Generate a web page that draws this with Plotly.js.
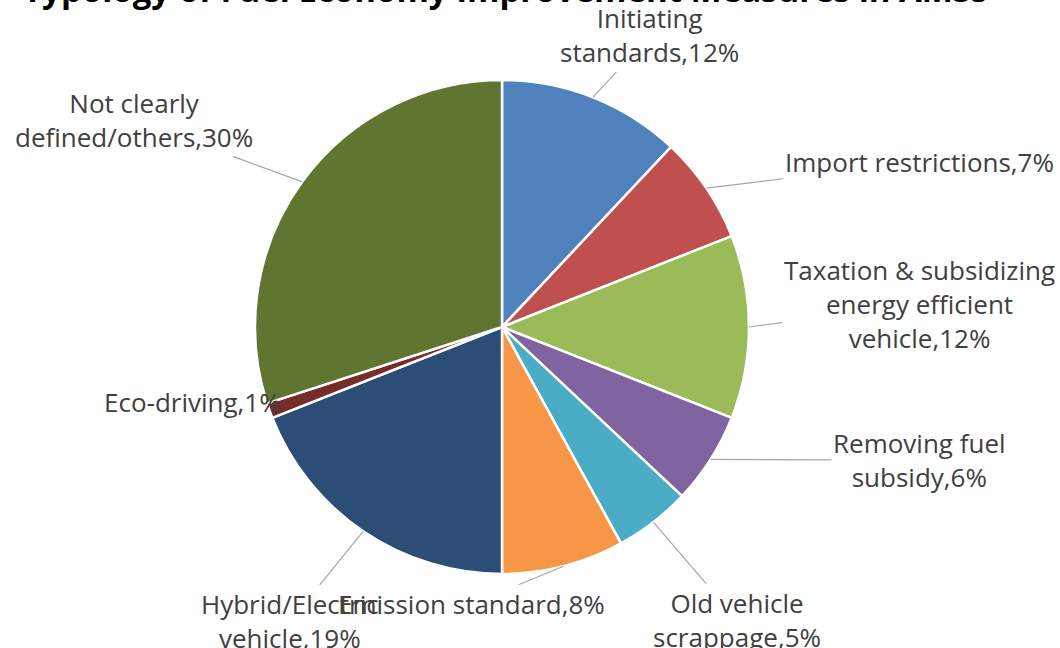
<!DOCTYPE html>
<html>
<head>
<meta charset="utf-8">
<script src="https://cdn.plot.ly/plotly-3.0.1.min.js"></script>
<style>html,body{margin:0;padding:0;background:#fff;}#chart{width:1060px;height:648px;}</style>
</head>
<body>
<div id="chart"></div>
<script>
// ---- data ----
const categories = [
  "Initiating standards",
  "Import restrictions",
  "Taxation & subsidizing energy efficient vehicle",
  "Removing fuel subsidy",
  "Old vehicle scrappage",
  "Emission standard",
  "Hybrid/Electric vehicle",
  "Eco-driving",
  "Not clearly defined/others"
];
const values = [12, 7, 12, 6, 5, 8, 19, 1, 30];
const wrappedNames = [
  "Initiating<br>standards",
  "Import restrictions",
  "Taxation &amp; subsidizing<br>energy efficient<br>vehicle",
  "Removing fuel<br>subsidy",
  "Old vehicle<br>scrappage",
  "Emission standard",
  "Hybrid/Electric<br>vehicle",
  "Eco-driving",
  "Not clearly<br>defined/others"
];
const titleText = "Typology of Fuel Economy Improvement Measures in AMSs";

// ---- styles / layout ----
const colors = ["#4F81BD","#C0504D","#9BBB59","#8064A2","#4BACC6","#F79646","#2C4D75","#772C2A","#5F7530"];
const W = 1060, H = 648;
const cx = 502, cy = 327, R = 247;
const fontFam = '"Open Sans", Lato, sans-serif';
// label centre offsets (pixels) from the slice edge point
const labelOffsets = [[57,-62],[213,-26],[170,-23],[209,1],[84,98],[-92,38],[-73,90],[-77,-9],[-168,-62]];
const arrowOn = [true,true,true,true,true,true,true,false,true];

const total = values.reduce((a,b)=>a+b,0);
let cum = 0;
const annotations = [];
values.forEach((v,i)=>{
  const mid = (cum + v/2)/total*2*Math.PI;
  cum += v;
  const px = cx + R*Math.sin(mid);
  const py = cy - R*Math.cos(mid);
  const pct = Math.round(v/total*100);
  const a = {
    x: px/W, y: 1 - py/H, xref:'paper', yref:'paper',
    text: wrappedNames[i] + "," + pct + "%",
    font: {family:fontFam, size:26, color:'#404040'},
    align:'center', xanchor:'center', yanchor:'middle'
  };
  if (arrowOn[i]) {
    Object.assign(a, {showarrow:true, ax:labelOffsets[i][0], ay:labelOffsets[i][1],
      arrowhead:0, arrowwidth:1.2, arrowcolor:'#A6A6A6', standoff:0});
  } else {
    Object.assign(a, {showarrow:false, xshift:labelOffsets[i][0], yshift:-labelOffsets[i][1]});
  }
  annotations.push(a);
});
annotations.push({
  x: 505/W, y: 1 + 10/H, xref:'paper', yref:'paper', showarrow:false,
  text:'<b>'+titleText+'</b>', xanchor:'center', yanchor:'middle',
  font:{family:fontFam, size:33, color:'#000'}
});

const trace = {
  type:'pie', labels:categories, values:values, sort:false,
  direction:'clockwise', rotation:0, textinfo:'none', hoverinfo:'none',
  marker:{colors:colors, line:{color:'#ffffff', width:2.5}},
  domain:{x:[(cx-R)/W,(cx+R)/W], y:[1-(cy+R)/H, 1-(cy-R)/H]},
  showlegend:false
};
const layout = {
  width:W, height:H, margin:{l:0,r:0,t:0,b:0},
  paper_bgcolor:'#fff', plot_bgcolor:'#fff',
  annotations:annotations, showlegend:false
};
Plotly.newPlot('chart',[trace],layout,{displayModeBar:false,staticPlot:true});
</script>
</body>
</html>
